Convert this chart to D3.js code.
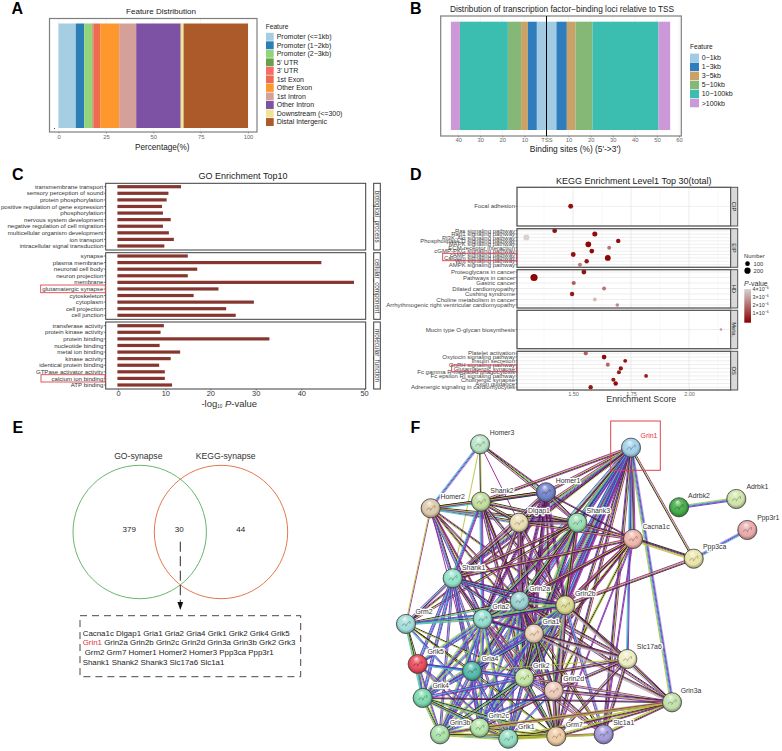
<!DOCTYPE html>
<html><head><meta charset="utf-8">
<script src="https://cdn.jsdelivr.net/npm/d3@7/dist/d3.min.js"></script>
<style>
html,body{margin:0;padding:0;background:#fff}
svg{display:block}
text{font-family:"Liberation Sans",Arial,sans-serif}
</style></head><body>
<div id="chart"></div>
<script>
// ---------- Panel A ----------
const featureA = ["Promoter (<=1kb)","Promoter (1−2kb)","Promoter (2−3kb)","5' UTR","3' UTR","1st Exon","Other Exon","1st Intron","Other Intron","Downstream (<=300)","Distal Intergenic"];
const percentA = [9.1,4.5,4.2,0.3,0.5,3.4,10,9,23.5,1.5,34];
const colorsA = ["#a6cee3","#2b7fb5","#93d47a","#6a9f4c","#fb6a6a","#ee6c4d","#fe982e","#d5a099","#7d51a3","#f1e493","#ad5a2a"];
const ticksA = [0,25,50,75,100];
// ---------- Panel B ----------
const featureB = ["0−1kb","1−3kb","3−5kb","5−10kb","10−100kb",">100kb"];
const upstreamB = [4.4,4.0,3.1,6.0,21.7,4.1];
const downstreamB = [4.5,4.7,3.9,7.7,29.9,5.3];
const colorsB = ["#a0cbe3","#2f7dbd","#c9a268","#85b777","#3bbdb0","#cb98d8"];
const ticksB = [-40,-30,-20,-10,0,10,20,30,40,50,60];
// ---------- Panel C ----------
const goBP = ["transmembrane transport","sensory perception of sound","protein phosphorylation","positive regulation of gene expression","phosphorylation","nervous system development","negative regulation of cell migration","multicellular organism development","ion transport","intracellular signal transduction"];
const goBPv = [13.5,10.7,10.3,9.3,9.5,11.2,9.5,10.8,11.9,9.8];
const goCC = ["synapse","plasma membrane","neuronal cell body","neuron projection","membrane","glutamatergic synapse","cytoskeleton","cytoplasm","cell projection","cell junction"];
const goCCv = [15,43.2,17.1,15,48.4,21.8,16.3,29.6,23.5,25.6];
const goMF = ["transferase activity","protein kinase activity","protein binding","nucleotide binding","metal ion binding","kinase activity","identical protein binding","GTPase activator activity","calcium ion binding","ATP binding"];
const goMFv = [9.7,9,33,8.8,13.3,11.2,8.7,9.9,9.9,11.5];
const goStrips = ["biological_process","cellular_component","molecular_function"];
const goTicks = [0,10,20,30,40,50];
// ---------- Panel D ----------
const keggCIP = ["Focal adhesion"];
const keggCIPscore = [1.49], keggCIPnum=[110], keggCIPp=[0.3];
const keggEIP = ["Ras signaling pathway","Rap1 signaling pathway","PI3K-Akt signaling pathway","Phospholipase D signaling pathway","MAPK signaling pathway","ECM-receptor interaction","cGMP-PKG signaling pathway","cAMP signaling pathway","Calcium signaling pathway","Wnt signaling pathway","AMPK signaling pathway"];
const keggEIPscore = [1.421,1.594,1.299,1.695,1.566,1.656,1.581,1.501,1.65,1.559,1.53];
const keggEIPnum = [105,120,190,85,160,60,105,110,170,85,70];
const keggEIPp = [0.3,0.2,4,0.2,0.1,2.2,0.2,0.3,0.1,0.4,2.4];
const keggHD = ["Proteoglycans in cancer","Pathways in cancer","Gastric cancer","Dilated cardiomyopathy","Cushing syndrome","Choline metabolism in cancer","Arrhythmogenic right ventricular cardiomyopathy"];
const keggHDscore = [1.547,1.332,1.503,1.634,1.496,1.594,1.691];
const keggHDnum = [105,280,75,65,85,60,50];
const keggHDp = [0.3,0.1,1.8,2.2,0.5,3.6,2.6];
const keggMeta = ["Mucin type O-glycan biosynthesis"];
const keggMetaScore=[2.138], keggMetaNum=[18], keggMetaP=[3];
const keggOS = ["Platelet activation","Oxytocin signaling pathway","Insulin secretion","GnRH signaling pathway","Glutamatergic synapse","Fc gamma R-mediated phagocytosis","Fc epsilon RI signaling pathway","Cholinergic synapse","Axon guidance","Adrenergic signaling in cardiomyocytes"];
const keggOSscore = [1.555,1.634,1.725,1.65,1.706,1.698,1.815,1.674,1.684,1.576];
const keggOSnum = [75,100,60,70,75,70,55,75,90,85];
const keggOSp = [1.8,0.2,0.3,2,0.3,0.5,0.5,0.5,0.2,0.4];
const keggStrips = ["CIP","EIP","HD","Meta.","OS"];
const keggTicks = [1.5,1.75,2];
const numberLegend = [100,200];
const pLegend = [4,3,2,1];
// ---------- Panel E ----------
const vennSets = ["GO-synapse","KEGG-synapse"];
const vennCounts = [379,30,44];
const vennGeneLines = [["Cacna1c Dlgap1 Gria1 Gria2 Gria4 Grik1 Grik2 Grik4 Grik5"],["Grin1","Grin2a Grin2b Grin2c Grin2d Grin3a Grin3b Grk2 Grk3"],["Grm2 Grm7 Homer1 Homer2 Homer3 Ppp3ca Ppp3r1"],["Shank1 Shank2 Shank3 Slc17a6 Slc1a1"]];
// ---------- Panel F : network (layout units) ----------
const netNames = ["Homer3","Grin1","Homer1","Adrbk2","Adrbk1","Ppp3r1","Homer2","Shank2","Dlgap1","Shank3","Cacna1c","Ppp3ca","Shank1","Grm2","Grin2a","Grin2b","Gria2","Gria1","Slc17a6","Grik5","Gria4","Grik2","Grin2d","Grik4","Grin3a","Grin2c","Grin3b","Grik1","Grm7","Slc1a1"];
const netX = [480,631,546,679,736.3,747.3,430.7,481,519,577.3,633,693.7,452.7,406,519.7,565.3,482.7,534,627.3,417.7,472,524.3,553.7,422.7,672,479.7,440,508.3,556.3,603.7];
const netY = [444.3,447.7,492.3,507.3,499,530,508.3,501.7,522.7,522.7,539,558.7,578.3,624,601,605.3,619,633.7,659,664,671,677.7,690.7,698,702.3,727.7,734.3,738.7,736.3,734.3];
const netLabelDx = [22,18,22,20,21,21,22,21,20,21,23,21,21,18,20,20,18,17,22,18,18,17,20,18,19,19,20,18,18,20];
const netLabelDy = [-12,-12,-12,-12,-12,-12,-12,-11,-12,-12,-12,-12,-11,-12,-12,-12,-12,-12,-12,-12,-12,-12,-12,-12,-12,-12,-12,-12,-12,-12];
const netColors = ["#b8e4c4","#9fcfe8","#6f80c8","#3faa44","#cfe3a8","#e8a8a8","#dcc8a8","#c0dc9c","#e8dcb0","#98dcb0","#eeb4a8","#e8e4a8","#90e0c8","#a0dcd8","#98d0d0","#d8d890","#90dccc","#ecd0b8","#ececc0","#e84858","#50b8a8","#c4e4a4","#ecc8b8","#78d8ac","#c0e0a8","#b0e4a8","#a8e0a8","#90dcc0","#ecc8a0","#a098d8"];
const netEdges = [
 ["lpbc","Homer3","Homer2"],["yk","Homer3","Shank2"],["y","Homer3","Shank1"],["mkyc","Homer3","Homer1"],["m","Homer3","Dlgap1"],["kym","Homer3","Shank3"],
 ["mkym","Grin1","Shank2 Homer1 Dlgap1"],["myk","Grin1","Ppp3ca"],["mpkycb","Grin1","Shank3 Cacna1c Grin2a Grin2b Gria1 Gria2"],["mpkbcy","Grin1","Grik2 Gria4 Shank1"],["lpbcy","Grin1","Grin3a"],["pbc","Grin1","Slc17a6"],["mykp","Grin1","Grin2d Grm7 Slc1a1"],["ykm","Grin1","Grm2 Grik4"],["mpcb","Grin1","Grin2c Grin3b Grik1"],
 ["kymc","Homer2","Shank2 Homer1 Dlgap1 Shank3"],["kmcp","Homer2","Shank1 Gria2"],["my","Homer2","Grm2"],["mky","Homer2","Grin2a Gria1 Grin2b Grik2"],["m","Homer2","Grm7 Gria4"],
 ["kymk","Shank2","Homer1 Dlgap1 Shank3"],["mpbc","Shank2","Shank1 Gria2"],["mkyp","Shank2","Grin2a Grin2b Gria1 Grik2"],
 ["kmyp","Homer1","Dlgap1 Shank3 Shank1"],["mpkm","Homer1","Grin2a Grin2b Gria1 Gria2"],["mk","Homer1","Grm7 Cacna1c Grik2"],
 ["kmyp","Dlgap1","Shank3 Shank1 Grin2a Grin2b Gria2 Gria1 Grik2"],["kym","Dlgap1","Cacna1c"],
 ["mkym","Shank3","Cacna1c Shank1"],["mpkcy","Shank3","Grin2a Grin2b Gria2 Gria1 Grik2"],["myk","Shank3","Grm2 Grin2d Gria4"],
 ["kkmyy","Cacna1c","Ppp3ca"],["mkym","Cacna1c","Shank1 Grin2a Gria1 Gria2 Grin2b"],["mky","Cacna1c","Grik2 Grin2c"],["yky","Cacna1c","Grin2d"],["mp","Cacna1c","Grm7 Slc1a1"],
 ["lbpc","Ppp3ca","Ppp3r1"],["kmym","Ppp3ca","Grin2b"],["ycbp","Adrbk2","Adrbk1"],
 ["mkcp","Shank1","Grin2a Gria2 Gria1 Grm2 Grin2b"],["pbcp","Shank1","Grik5 Grik4 Gria4"],["mcp","Shank1","Grik2 Grin2c Grik1 Grin3b"],["kym","Shank1","Grm7"],
 ["kyc","Grm2","Gria2 Grin2a Grik5 Grik4"],["ky","Grm2","Gria4 Grik2 Grm7"],["pbc","Grm2","Grin2b Grik1"],
 ["mpkcy","Grin2a","Grin2b Gria2 Gria1 Grik2 Gria4 Grin2d"],["pbcy","Grin2a","Grik5 Grik4 Grin2c Grin3b Grik1"],["kmyp","Grin2a","Slc17a6 Grm7 Grin3a"],["myk","Grin2a","Slc1a1"],
 ["mpkcy","Grin2b","Gria2 Gria1 Grik2 Grin2d"],["pbcy","Grin2b","Gria4 Grik4 Grin2c Grin3b Grik1"],["kmyl","Grin2b","Slc17a6 Grm7 Grin3a"],["lbcm","Grin2b","Slc1a1"],
 ["mpcb","Gria2","Gria1 Gria4 Grik2"],["pbcy","Gria2","Grik5 Grik4 Grin3b Grin2c Grik1"],["mk","Gria2","Slc17a6"],["myp","Gria2","Grin2d Grm7"],
 ["kmcp","Gria1","Gria4 Grik2 Grin2d"],["kmyl","Gria1","Slc17a6 Grin3a"],["yk","Gria1","Grm7 Grik1 Slc1a1"],["cbp","Gria1","Grik4 Grin2c"],
 ["mkyp","Slc17a6","Grik2 Grin2d Grm7 Slc1a1 Grin3a"],["y","Slc17a6","Gria4"],
 ["pbc","Grik5","Grik4 Gria4 Grik2"],["pby","Grik5","Grin3b Grik1 Grin2c"],
 ["pbcm","Gria4","Grik4 Grik2 Grin2c Grin3b Grik1"],["ky","Gria4","Grm7"],
 ["mbcp","Grik2","Grik4 Grin2d Grik1 Grin2c"],["kyck","Grik2","Grm7 Grin3b"],["myp","Grik2","Grin3a Slc1a1"],
 ["kmyp","Grin2d","Grm7 Grin3a Slc1a1 Grin2c"],["cbp","Grin2d","Grik1 Grin3b"],
 ["ykcy","Grik4","Grin3b Grin2c Grm7"],["kyb","Grik4","Grik1"],["mk","Grik4","Grin3a"],
 ["mkyy","Grin3a","Grm7 Slc1a1 Grin2c Grik1"],["yym","Grin3a","Grin3b"],
 ["ymby","Grin2c","Grin3b Grik1"],["yky","Grin2c","Grm7"],["ybcy","Grin3b","Grik1"],["yky","Grin3b","Grm7"],["yky","Grik1","Grm7"],["mky","Grm7","Slc1a1"],["yy","Grik1","Slc1a1"]
];
const evidenceKeys = ["m","p","k","y","c","b","l"];
const evidenceColors = ["#9c1f96","#6f2fb8","#1f1f1f","#b4c236","#3fbfc0","#4a50d0","#b0a8ea"];

// ---------- drawing ----------
const W=782,H=751;
const svg=d3.select("#chart").append("svg").attr("width",W).attr("height",H).attr("viewBox",[0,0,W,H]);
svg.append("rect").attr("width",W).attr("height",H).attr("fill","#fff");
const defs=svg.append("defs");

function label(sel,x,y,t,o={}){return sel.append("text").attr("x",x).attr("y",y).attr("dy","0.35em").attr("font-size",o.size||7).attr("fill",o.fill||"#222").attr("text-anchor",o.anchor||"start").attr("font-weight",o.weight||null).attr("font-style",o.italic?"italic":null).text(t);}
function frame(sel,x0,y0,x1,y1,c,w){sel.append("rect").attr("x",x0).attr("y",y0).attr("width",x1-x0).attr("height",y1-y0).attr("fill","none").attr("stroke",c).attr("stroke-width",w);}
function grid(sel,ticks,x,y0,y1,c,w){sel.selectAll(null).data(ticks).join("line").attr("x1",x).attr("x2",x).attr("y1",y0).attr("y2",y1).attr("stroke",c).attr("stroke-width",w);}
function bottomAxis(sel,scale,ticks,y,fmt,size,color,len,pad){
  const a=d3.axisBottom(scale).tickValues(ticks).tickFormat(fmt).tickSize(len).tickPadding(pad===undefined?1.5:pad);
  const g=sel.append("g").attr("transform",`translate(0,${y})`).call(a);
  g.select(".domain").remove();
  g.selectAll(".tick line").attr("stroke",color).attr("stroke-width",.6);
  g.selectAll("text").attr("font-size",size).attr("fill",color).attr("font-family",null);
  return g;
}
// panel letters
const letters=[["A",11.5,13.5],["B",410,13.5],["C",12,180],["D",410,180],["E",12.5,432.7],["F",410.5,432.5]];
svg.selectAll(null).data(letters).join("text").attr("x",d=>d[1]).attr("y",d=>d[2]).attr("font-size",16).attr("font-weight","700").attr("fill","#000").text(d=>d[0]);

// ---- A ----
{
 const g=svg.append("g");
 const x=d3.scaleLinear([0,100],[58.5,248]);
 const top=23.5,bot=128;
 grid(g,ticksA,d=>x(d),18,132,"#ececec",.6);
 const ends=d3.cumsum(percentA);
 g.selectAll(null).data(percentA).join("rect").attr("x",(d,i)=>x(i?ends[i-1]:0)).attr("width",d=>x(d)-x(0)).attr("y",top).attr("height",bot-top).attr("fill",(d,i)=>colorsA[i]);
 g.append("circle").attr("cx",54.5).attr("cy",128.5).attr("r",.6).attr("fill","#333");
 frame(g,49.5,18.5,257,132,"#7f7f7f",1.2);
 bottomAxis(g,x,ticksA,132,d=>d,5.8,"#666",1.5);
 label(g,161,11.3,"Feature Distribution",{size:8,anchor:"middle"});
 label(g,162.3,146.7,"Percentage(%)",{size:8.2,anchor:"middle"});
 label(g,265.7,27,"Feature",{size:6.6});
 const y=d3.scaleBand(featureA,[32.5,126.3]);
 g.selectAll(null).data(featureA).join("rect").attr("x",266).attr("y",d=>y(d)+.3).attr("width",7.7).attr("height",y.step()-.6).attr("fill",(d,i)=>colorsA[i]);
 featureA.forEach(f=>label(g,276.7,y(f)+y.step()/2,f,{size:7}));
}
// ---- B ----
{
 const g=svg.append("g");
 const x=d3.scaleLinear([0,60],[546.5,679]);
 const top=21.7,bot=130;
 grid(g,ticksB,d=>x(d),16,136,"#ececec",.6);
 const u=d3.cumsum(upstreamB),v=d3.cumsum(downstreamB);
 g.selectAll(null).data(upstreamB).join("rect").attr("x",(d,i)=>x(-u[i])).attr("width",d=>x(d)-x(0)).attr("y",top).attr("height",bot-top).attr("fill",(d,i)=>colorsB[i]);
 g.selectAll(null).data(downstreamB).join("rect").attr("x",(d,i)=>x(i?v[i-1]:0)).attr("width",d=>x(d)-x(0)).attr("y",top).attr("height",bot-top).attr("fill",(d,i)=>colorsB[i]);
 frame(g,440.7,16,681.3,136,"#7f7f7f",1.2);
 g.append("line").attr("x1",x(0)).attr("x2",x(0)).attr("y1",16).attr("y2",136).attr("stroke","#000").attr("stroke-width",1);
 bottomAxis(g,x,ticksB,136,d=>d===0?"TSS":Math.abs(d),5.8,"#666",1.5,.5);
 label(g,562,9,"Distribution of transcription factor−binding loci relative to TSS",{size:8.3,anchor:"middle"});
 label(g,575.3,149.3,"Binding sites (%) (5'->3')",{size:8.4,anchor:"middle"});
 label(g,690,47,"Feature",{size:6.6});
 const y=d3.scaleBand(featureB,[53.3,107.6]);
 g.selectAll(null).data(featureB).join("rect").attr("x",690).attr("y",d=>y(d)+.3).attr("width",9).attr("height",y.step()-.6).attr("fill",(d,i)=>colorsB[i]);
 featureB.forEach(f=>label(g,701.7,y(f)+y.step()/2,f,{size:7}));
}
// ---- C ----
{
 const g=svg.append("g");
 const x=d3.scaleLinear().domain(goTicks).range([118,165.3,210.3,255.7,301.3,364]);
 const facets=[[goBP,goBPv,183.3,250,186.7,246],[goCC,goCCv,252.7,319.3,256,315.3],[goMF,goMFv,322,389,325.7,385]];
 const L=105.7,R=365.7;
 facets.forEach(([names,vals,t,b,f,l],k)=>{
  const y=d3.scalePoint(names,[f,l]);
  g.selectAll(null).data(names).join("rect").attr("x",x(0)-.6).attr("y",d=>y(d)-1.6).attr("height",3.2).attr("width",(d,i)=>x(vals[i])-x(0)+.6).attr("fill","#86362e");
  names.forEach(n=>{label(g,103.3,y(n),n,{size:6.1,anchor:"end",fill:"#333"});
    g.append("line").attr("x1",104).attr("x2",L).attr("y1",y(n)).attr("y2",y(n)).attr("stroke","#333").attr("stroke-width",.6);});
  frame(g,L,t,R,b,"#3c3c3c",1);
  frame(g,373.7,t,380.3,b,"#3c3c3c",1);
  const sx=377,sy=(t+b)/2;
  g.append("text").attr("transform",`translate(${sx},${sy}) rotate(90)`).attr("text-anchor","middle").attr("dy","0.35em").attr("font-size",6.3).attr("fill","#333").text(goStrips[k]);
 });
 bottomAxis(g,x,goTicks,389,d=>d,7.4,"#333",1.5,.5);
 label(g,243,176,"GO Enrichment Top10",{size:9,anchor:"middle"});
 const t=g.append("text").attr("x",229.3).attr("y",403.3).attr("dy","0.35em").attr("text-anchor","middle").attr("font-size",9.5).attr("fill","#333");
 t.append("tspan").text("-log");
 t.append("tspan").attr("font-size",4.5).attr("dy",1.6).text("10");
 t.append("tspan").attr("dy",-1.6).text(" ");
 t.append("tspan").attr("font-style","italic").text("P");
 t.append("tspan").text("-value");
 [[40.7,285,105.3,292.7],[41,374.7,105,382]].forEach(r=>frame(g,r[0],r[1],r[2],r[3],"#e0444c",.9));
}
// ---- D ----
{
 const g=svg.append("g");
 const x=d3.scaleLinear([1.5,2],[573,689]);
 const size=d3.scaleSqrt([0,300],[.5,3.7]);
 const color=d3.scaleLinear([0,4],["#8b0000","#d9d2d2"]);
 const L=517,R=730.7;
 const facets=[
  [keggCIP,keggCIPscore,keggCIPnum,keggCIPp,187.3,226,206.3,206.3],
  [keggEIP,keggEIPscore,keggEIPnum,keggEIPp,228.7,267.3,230.7,264.7],
  [keggHD,keggHDscore,keggHDnum,keggHDp,269.7,308,272,305],
  [keggMeta,keggMetaScore,keggMetaNum,keggMetaP,310.3,348.7,329.5,329.5],
  [keggOS,keggOSscore,keggOSnum,keggOSp,351.3,390,353.3,387.3]];
 const minor=[1.375,1.625,1.875,2.125];
 facets.forEach(([names,sc,num,p,t,b,f,l],k)=>{
  const y=names.length>1?d3.scalePoint(names,[f,l]):(()=>f);
  grid(g,minor,d=>x(d),t,b,"#f2f2f2",.5);
  grid(g,keggTicks,d=>x(d),t,b,"#e3e3e3",.7);
  names.forEach(n=>{g.append("line").attr("x1",L).attr("x2",R).attr("y1",y(n)).attr("y2",y(n)).attr("stroke","#e3e3e3").attr("stroke-width",.6);});
  names.forEach((n,i)=>{g.append("circle").attr("cx",x(sc[i])).attr("cy",y(n)).attr("r",size(num[i])).attr("fill",color(p[i]));
    label(g,515,y(n),n,{size:6,anchor:"end",fill:"#444"});
    g.append("line").attr("x1",515.6).attr("x2",L).attr("y1",y(n)).attr("y2",y(n)).attr("stroke","#333").attr("stroke-width",.6);});
  frame(g,L,t,R,b,"#555",1.3);
  g.append("rect").attr("x",R).attr("y",t).attr("width",7).attr("height",b-t).attr("fill","#d9d9d9").attr("stroke","#555").attr("stroke-width",1);
  g.append("text").attr("transform",`translate(${R+3.5},${(t+b)/2}) rotate(90)`).attr("text-anchor","middle").attr("dy","0.35em").attr("font-size",5.8).attr("fill","#222").text(keggStrips[k]);
 });
 bottomAxis(g,x,keggTicks,390,d3.format(".2f"),5.5,"#666",1.2,.5);
 label(g,633.8,180.7,"KEGG Enrichment Level1 Top 30(total)",{size:9,anchor:"middle"});
 label(g,641.3,399.3,"Enrichment Score",{size:8.8,anchor:"middle",fill:"#333"});
 [[442.7,253.3,516.7,260.7],[451.7,365,516.7,371.7]].forEach(r=>frame(g,r[0],r[1],r[2],r[3],"#e0344c",.9));
 // legends
 label(g,744,256,"Number",{size:5.8,fill:"#333"});
 const ly=d3.scalePoint(numberLegend,[263.7,270.7]);
 numberLegend.forEach(n=>{g.append("circle").attr("cx",747.5).attr("cy",ly(n)).attr("r",size(n)).attr("fill","#000");label(g,753.5,ly(n),n,{size:5.8,fill:"#333"});});
 const pt=g.append("text").attr("x",744).attr("y",284).attr("dy","0.35em").attr("font-size",7).attr("fill","#333");
 pt.append("tspan").attr("font-style","italic").text("P");pt.append("tspan").text("-value");
 const py=d3.scaleLinear([0,4],[321.3,289.3]);
 const grad=defs.append("linearGradient").attr("id","pGrad").attr("x1",0).attr("x2",0).attr("y1",1).attr("y2",0);
 grad.selectAll("stop").data([0,1,2,3,4]).join("stop").attr("offset",d=>d/4).attr("stop-color",d=>color(d));
 g.append("rect").attr("x",744.3).attr("y",289).attr("width",6.7).attr("height",33.7).attr("fill","url(#pGrad)");
 pLegend.forEach(v=>{const t=g.append("text").attr("x",752.5).attr("y",py(v)).attr("dy","0.35em").attr("font-size",5.4).attr("fill","#333");
   t.append("tspan").text(v+"×10");t.append("tspan").attr("font-size",3.5).attr("dy",-1.8).text("−6");});
}
// ---- E ----
{
 const g=svg.append("g");
 const cx=[139.7,221],colors=["#56ae5c","#e0683a"];
 vennSets.forEach((s,i)=>g.append("circle").attr("cx",cx[i]).attr("cy",532).attr("r",66.7).attr("fill","none").attr("stroke",colors[i]).attr("stroke-width",.9));
 label(g,138.3,456,vennSets[0],{size:8.6,anchor:"middle",fill:"#333"});
 label(g,225.7,456,vennSets[1],{size:8.6,anchor:"middle",fill:"#333"});
 [129.3,179.3,240.7].forEach((px,i)=>label(g,px,529,vennCounts[i],{size:8,anchor:"middle",fill:"#222"}));
 g.append("line").attr("x1",180.3).attr("x2",180.3).attr("y1",541.7).attr("y2",606).attr("stroke","#111").attr("stroke-width",.9).attr("stroke-dasharray","10,4.5");
 g.append("path").attr("d","M177.4,602 L183.2,602 L180.3,610 Z").attr("fill","#111");
 g.append("rect").attr("x",80).attr("y",615.7).attr("width",220.7).attr("height",61).attr("fill","none").attr("stroke","#333").attr("stroke-width",.9).attr("stroke-dasharray","7,5");
 const ys=[633,642.7,652.3,662.3],xs=[82.7,82.7,84.7,82.7];
 vennGeneLines.forEach((ln,i)=>{
  const t=g.append("text").attr("x",xs[i]).attr("y",ys[i]).attr("dy","0.35em").attr("font-size",7.9).attr("fill","#222");
  ln.forEach(p=>{const s=t.append("tspan").text(p+" ");if(p==="Grin1")s.attr("fill","#e0343c");});
 });
}
// ---- F ----
{
 const g=svg.append("g");
 const sx=d3.scaleLinear([400,782],[400,782]),sy=d3.scaleLinear([415,751],[415,751]);
 const idx=new Map(netNames.map((n,i)=>[n,i]));
 const ecol=new Map(evidenceKeys.map((k,i)=>[k,evidenceColors[i]]));
 const eg=g.append("g").attr("fill","none");
 const line=d3.line();
 netEdges.forEach(([ev,src,tg])=>tg.split(" ").forEach(t=>{
   const a=idx.get(src),b=idx.get(t);
   const x0=sx(netX[a]),y0=sy(netY[a]),x1=sx(netX[b]),y1=sy(netY[b]);
   const dx=x1-x0,dy=y1-y0,len=Math.hypot(dx,dy),nx=-dy/len,ny=dx/len;
   const keys=ev.split(""),w=.85;
   keys.forEach((k,j)=>{
     const o=(j-(keys.length-1)/2)*w;
     eg.append("path").attr("d",line([[x0+nx*o,y0+ny*o],[x1+nx*o,y1+ny*o]])).attr("stroke",ecol.get(k)).attr("stroke-width",w+.05);
   });
 }));
 const ng=g.append("g");
 netNames.forEach((n,i)=>{
  const c=d3.color(netColors[i]);
  const id="ball"+i;
  const gr=defs.append("radialGradient").attr("id",id).attr("cx","50%").attr("cy","50%").attr("r","55%").attr("fx","42%").attr("fy","20%");
  gr.append("stop").attr("offset","0%").attr("stop-color",d3.interpolateRgb(c,"#fff")(.8));
  gr.append("stop").attr("offset","30%").attr("stop-color",d3.interpolateRgb(c,"#fff")(.2));
  gr.append("stop").attr("offset","72%").attr("stop-color",c.formatHex());
  gr.append("stop").attr("offset","100%").attr("stop-color",c.darker(1.6).formatHex());
  const x=sx(netX[i]),y=sy(netY[i]);
  ng.append("circle").attr("cx",x).attr("cy",y).attr("r",9.6).attr("fill",`url(#${id})`).attr("stroke","#3f3f3f").attr("stroke-width",.8);
  ng.append("path").attr("d",`M${x-4},${y+2}q1,-3 3,-2t1,2t2,-3t2,1`).attr("fill","none").attr("stroke",c.darker(1.1).formatHex()).attr("stroke-width",.7);
 });
 const lg=g.append("g");
 netNames.forEach((n,i)=>{
  const x=sx(netX[i])+netLabelDx[i],y=sy(netY[i])+netLabelDy[i];
  lg.append("text").attr("x",x).attr("y",y).attr("dy","0.35em").attr("text-anchor","middle").attr("font-size",6.9).attr("fill",n==="Grin1"?"#e0343c":"#333").attr("stroke","#fff").attr("stroke-width",2.6).attr("stroke-linejoin","round").attr("paint-order","stroke").text(n);
 });
 frame(g,610.7,421,660.3,470.3,"#e0444c",1);
}
</script>
</body></html>
